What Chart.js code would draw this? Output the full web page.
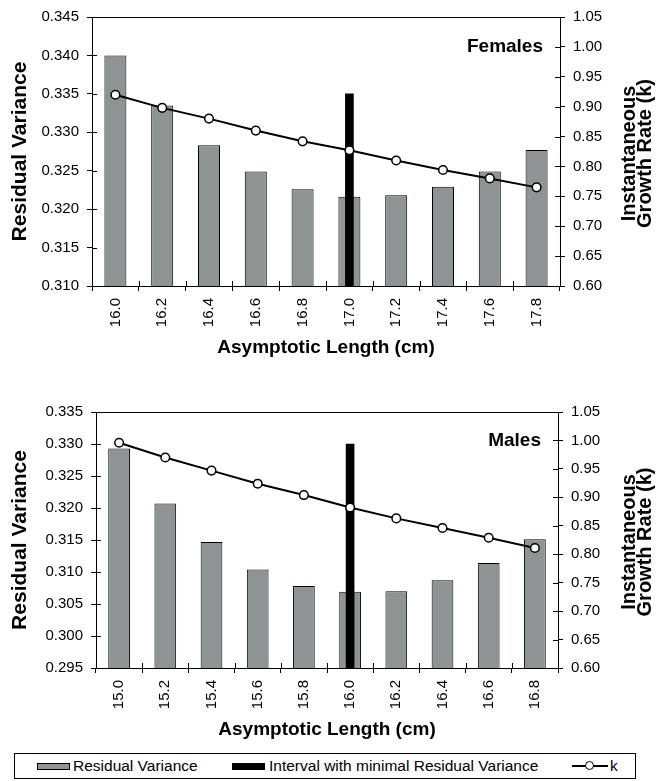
<!DOCTYPE html>
<html><head><meta charset="utf-8">
<script src="https://cdn.jsdelivr.net/npm/chart.js@4.4.1/dist/chart.umd.min.js"></script>
<style>
html,body{margin:0;padding:0;background:#fff;width:661px;height:781px;overflow:hidden;font-family:'Liberation Sans',Arial,sans-serif;}
canvas{position:absolute;left:0;}
#c1{top:0}
#c2{top:395px}
#legend{position:absolute;left:14px;top:753px;width:622px;height:26px;border:1px solid #000;box-sizing:border-box;font-size:15.5px;color:#000;}
#legend span{position:absolute;}
.sw{top:9px;height:7px;width:33px;border:1px solid #000;box-sizing:border-box;}
.tx{top:3px;line-height:18px;white-space:nowrap;}
</style>
</head><body>
<canvas id="c1" width="661" height="370"></canvas>
<canvas id="c2" width="661" height="350"></canvas>
<div id="legend">
  <span class="sw" style="left:22px;background:#8e9494;"></span>
  <span class="tx" style="left:58px;" id="lg1"></span>
  <span class="sw" style="left:217px;background:#000;"></span>
  <span class="tx" style="left:254px;" id="lg2"></span>
  <span style="left:557px;top:11px;width:36px;height:2px;background:#000;"></span>
  <span style="left:570px;top:7px;width:7px;height:7px;border:1.5px solid #000;border-radius:50%;background:#fff;"></span>
  <span class="tx" style="left:595px;" id="lg3"></span>
</div>
<script>
const FONT = "'Liberation Sans', Arial, sans-serif";

// ---- Data ----
const femaleLengths = ['16.0','16.2','16.4','16.6','16.8','17.0','17.2','17.4','17.6','17.8'];
const femaleResidVar = [0.3400,0.3335,0.3283,0.3249,0.3226,0.3216,0.3218,0.3229,0.3249,0.3277];
const femaleK = [0.920,0.898,0.880,0.860,0.842,0.827,0.810,0.794,0.780,0.765];
const femaleInterval = [null,null,null,null,null,0.335,null,null,null,null];

const maleLengths = ['15.0','15.2','15.4','15.6','15.8','16.0','16.2','16.4','16.6','16.8'];
const maleResidVar = [0.3293,0.3207,0.3147,0.3104,0.3078,0.3069,0.3070,0.3087,0.3114,0.3151];
const maleK = [0.996,0.970,0.947,0.924,0.904,0.882,0.863,0.846,0.829,0.811];
const maleInterval = [null,null,null,null,null,0.330,null,null,null,null];

const femaleVarTicks = ['0.310','0.315','0.320','0.325','0.330','0.335','0.340','0.345'];
const maleVarTicks = ['0.295','0.300','0.305','0.310','0.315','0.320','0.325','0.330','0.335'];
const kTicks = ['0.60','0.65','0.70','0.75','0.80','0.85','0.90','0.95','1.00','1.05'];

const xTitle = 'Asymptotic Length (cm)';
const yTitle = 'Residual Variance';
const y1Title = ['Instantaneous','Growth Rate (k)'];
const legendLabels = ['Residual Variance','Interval with minimal Residual Variance','k'];

document.getElementById('lg1').textContent = legendLabels[0];
document.getElementById('lg2').textContent = legendLabels[1];
document.getElementById('lg3').textContent = legendLabels[2];

const framePlugin = {
  id: 'frame',
  afterDraw(chart, args, opts) {
    const {ctx, chartArea: a, scales} = chart;
    ctx.save();
    ctx.strokeStyle = '#000';
    ctx.lineWidth = 1;
    ctx.beginPath();
    ctx.moveTo(a.left, Math.round(a.top) + 0.5);
    ctx.lineTo(a.right, Math.round(a.top) + 0.5);
    scales.y.ticks.forEach(t => {
      const py = Math.round(scales.y.getPixelForValue(t.value)) + 0.5;
      ctx.moveTo(a.left, py); ctx.lineTo(a.left + 5, py);
    });
    scales.y1.ticks.forEach(t => {
      const py = Math.round(scales.y1.getPixelForValue(t.value)) + 0.5;
      ctx.moveTo(a.right, py); ctx.lineTo(a.right - 5, py);
    });
    const n = chart.data.labels.length;
    const w = (a.right - a.left) / n;
    for (let i = 0; i <= n; i++) {
      const px = Math.round(a.left + i * w) + 0.5;
      ctx.moveTo(px, a.bottom); ctx.lineTo(px, a.bottom - 5);
    }
    ctx.stroke();
    ctx.fillStyle = '#000';
    ctx.font = 'bold 20px ' + FONT;
    ctx.textAlign = 'center';
    ctx.textBaseline = 'middle';
    const cy = (a.top + a.bottom) / 2 + 2;
    [[629, y1Title[0]], [645, y1Title[1]]].forEach(([x, t]) => {
      ctx.save(); ctx.translate(x, cy); ctx.rotate(-Math.PI / 2); ctx.fillText(t, 0, 0); ctx.restore();
    });
    ctx.font = 'bold 19px ' + FONT;
    ctx.textAlign = 'right';
    ctx.fillText(opts.panel, a.right - 17, scales.y1.getPixelForValue(1.0));
    ctx.restore();
  }
};

function findLabel(arr, v) {
  const s = arr.find(t => Math.abs(parseFloat(t) - v) < 1e-9);
  return s === undefined ? '' : s;
}

function buildChart(id, o) {
  return new Chart(document.getElementById(id), {
    data: {
      labels: o.labels,
      datasets: [
        {type: 'line', label: legendLabels[2], data: o.k, yAxisID: 'y1', order: 0,
         borderColor: '#000', borderWidth: 2, pointRadius: 4.3, pointBorderWidth: 1.5,
         pointBackgroundColor: '#fff', pointBorderColor: '#000', tension: 0},
        {type: 'bar', label: legendLabels[1], data: o.interval, yAxisID: 'y', order: 1,
         backgroundColor: '#000', barThickness: 8, grouped: false},
        {type: 'bar', label: legendLabels[0], data: o.resid, yAxisID: 'y', order: 2,
         backgroundColor: '#8e9494', borderColor: '#000', borderWidth: 1, borderSkipped: false,
         barPercentage: 0.47, categoryPercentage: 1, grouped: false}
      ]
    },
    options: {
      responsive: false, animation: false, devicePixelRatio: 1,
      layout: {padding: {top: o.top, left: 0, right: 0, bottom: 0}},
      plugins: {legend: {display: false}, tooltip: {enabled: false}, frame: {panel: o.panel}},
      scales: {
        x: {
          type: 'category', offset: true,
          grid: {offset: true, drawOnChartArea: false, drawTicks: true, tickLength: 5, color: '#000'},
          border: {color: '#000', width: 1},
          ticks: {color: '#000', font: {family: FONT, size: 15}, minRotation: 90, maxRotation: 90, padding: 7, autoSkip: false},
          title: {display: true, text: xTitle, color: '#000', font: {family: FONT, size: 19, weight: 'bold'}, padding: {top: 0, bottom: o.xTitlePad}},
          afterFit(s) { s.height = o.H - o.bottom; }
        },
        y: {
          type: 'linear', position: 'left',
          min: parseFloat(o.varTicks[0]), max: parseFloat(o.varTicks[o.varTicks.length - 1]),
          afterBuildTicks(s) { s.ticks = o.varTicks.map(t => ({value: parseFloat(t)})); },
          grid: {drawOnChartArea: false, drawTicks: true, tickLength: 5, color: '#000'},
          border: {color: '#000', width: 1},
          ticks: {color: '#000', font: {family: FONT, size: 15}, padding: 8, callback: v => findLabel(o.varTicks, v)},
          title: {display: true, text: yTitle, color: '#000', font: {family: FONT, size: 21, weight: 'bold'}, padding: {top: 8, bottom: 0}},
          afterFit(s) { s.width = o.left; }
        },
        y1: {
          type: 'linear', position: 'right',
          min: parseFloat(kTicks[0]), max: parseFloat(kTicks[kTicks.length - 1]),
          afterBuildTicks(s) { s.ticks = kTicks.map(t => ({value: parseFloat(t)})); },
          grid: {drawOnChartArea: false, drawTicks: true, tickLength: 5, color: '#000'},
          border: {color: '#000', width: 1},
          ticks: {color: '#000', font: {family: FONT, size: 15}, padding: 8, callback: v => findLabel(kTicks, v)},
          afterFit(s) { s.width = 661 - o.right; }
        }
      }
    },
    plugins: [framePlugin]
  });
}

buildChart('c1', {labels: femaleLengths, resid: femaleResidVar, k: femaleK, interval: femaleInterval,
  varTicks: femaleVarTicks, panel: 'Females', top: 15, bottom: 286, left: 92, right: 560, H: 370, xTitlePad: 10.6});
buildChart('c2', {labels: maleLengths, resid: maleResidVar, k: maleK, interval: maleInterval,
  varTicks: maleVarTicks, panel: 'Males', top: 15, bottom: 273, left: 96, right: 558, H: 350, xTitlePad: 3.6});
</script>
</body></html>
